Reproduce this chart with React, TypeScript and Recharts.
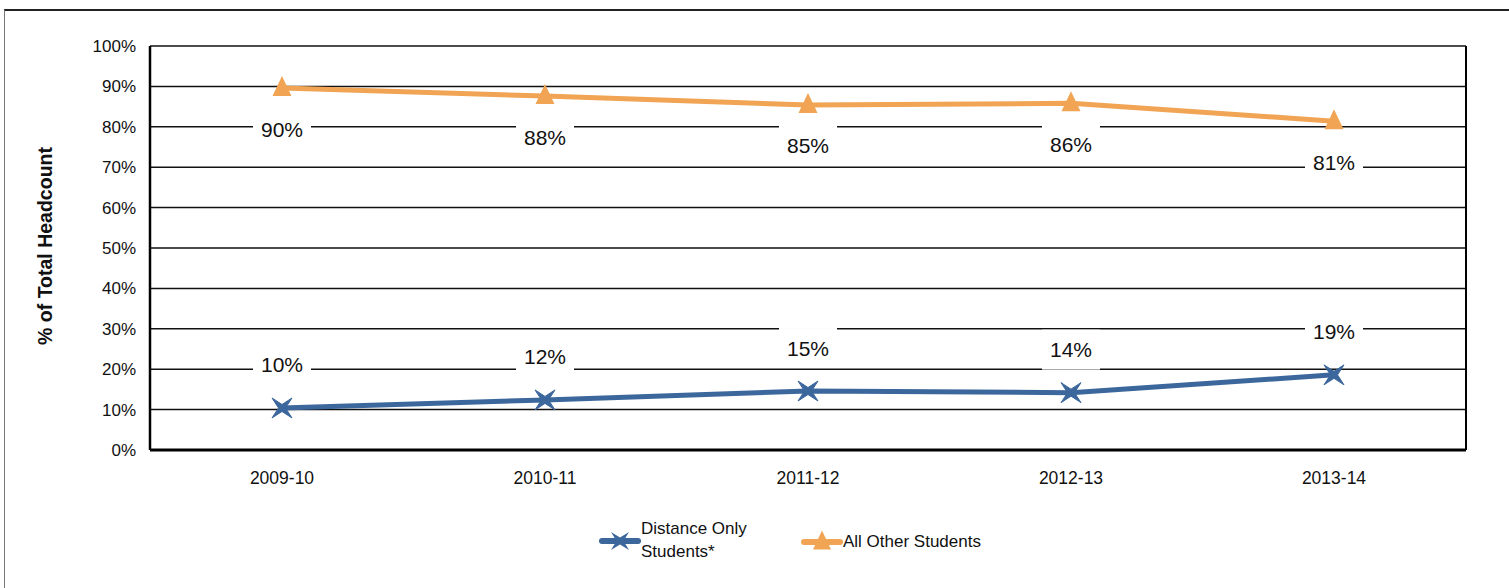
import { CartesianGrid, LabelList, Line, LineChart, XAxis, YAxis } from "recharts"

const years = ["2009-10", "2010-11", "2011-12", "2012-13", "2013-14"]
const distanceOnly = [10.4, 12.4, 14.6, 14.2, 18.6]
const allOther = [89.6, 87.6, 85.4, 85.8, 81.4]
const yTicks = [0, 10, 20, 30, 40, 50, 60, 70, 80, 90, 100]

const data = years.map((year, i) => ({
    year,
    distance: distanceOnly[i],
    other: allOther[i],
}))

const FONT = "'Liberation Sans', Arial, sans-serif"
const BLUE = "#3C679C"
const ORANGE = "#F0A454"

function starPath(cx: number, cy: number, r = 10, inner = 3.5) {
    return `M${cx - r},${cy - r} L${cx},${cy - inner} L${cx + r},${cy - r} L${cx + inner},${cy} L${cx + r},${cy + r} L${cx},${cy + inner} L${cx - r},${cy + r} L${cx - inner},${cy} Z`
}

function trianglePath(cx: number, cy: number, w = 19, h = 20) {
    return `M${cx},${cy - h * 0.6} L${cx + w / 2},${cy + h * 0.4} L${cx - w / 2},${cy + h * 0.4} Z`
}

const StarDot = (props: any) => {
    const { cx, cy, index } = props
    if (cx == null || cy == null) return <g key={`s-${index}`} />
    return <path key={`s-${index}`} d={starPath(cx, cy)} fill={BLUE} stroke={BLUE} strokeWidth={1} />
}

const TriangleDot = (props: any) => {
    const { cx, cy, index } = props
    if (cx == null || cy == null) return <g key={`t-${index}`} />
    return <path key={`t-${index}`} d={trianglePath(cx, cy)} fill={ORANGE} />
}

const boxLabel = (offset: number) => (props: any) => {
    const { x, y, value } = props
    const cy = y + offset
    return (
        <g>
            <rect x={x - 29} y={cy - 20} width={58} height={40} fill="#fff" />
            <text x={x} y={cy} textAnchor="middle" dominantBaseline="central" fontSize={21} fontFamily={FONT} fill="#111">
                {`${Math.round(value)}%`}
            </text>
        </g>
    )
}

function LegendIcon({ kind }: { kind: "star" | "tri" }) {
    const color = kind === "star" ? BLUE : ORANGE
    return (
        <svg width={42} height={24} style={{ display: "block" }}>
            <line x1={3} y1={13} x2={39} y2={13} stroke={color} strokeWidth={6} strokeLinecap="round" />
            {kind === "star" ? (
                <path d={starPath(21, 13, 9, 3.5)} fill={color} />
            ) : (
                <path d={trianglePath(21, 13, 18, 19)} fill={color} />
            )}
        </svg>
    )
}

export default function App() {
    return (
        <div style={{ position: "absolute", left: 0, top: 0, width: 1509, height: 588, background: "#fff", fontFamily: FONT }}>
            <div
                style={{
                    position: "absolute",
                    left: 4,
                    top: 9,
                    width: 1505,
                    height: 579,
                    borderTop: "2px solid #222",
                    borderLeft: "1px solid #777",
                }}
            />
            <div style={{ position: "absolute", left: 0, top: 0 }}>
                <LineChart width={1509} height={588} data={data} margin={{ top: 46, right: 42, bottom: 98, left: 0 }}>
                    <CartesianGrid yAxisId="left" vertical={false} stroke="#111" strokeWidth={1.5} />
                    <XAxis
                        dataKey="year"
                        padding={{ left: 132, right: 132 }}
                        axisLine={{ stroke: "#000", strokeWidth: 3 }}
                        tickLine={false}
                        tickSize={0}
                        tickMargin={22}
                        height={40}
                        tick={{ fill: "#111", fontSize: 17.5, fontFamily: FONT }}
                    />
                    <YAxis
                        yAxisId="left"
                        domain={[0, 100]}
                        ticks={yTicks}
                        interval={0}
                        width={150}
                        axisLine={{ stroke: "#000", strokeWidth: 2.5 }}
                        tickLine={false}
                        tickSize={0}
                        tickMargin={14}
                        tickFormatter={(v) => `${v}%`}
                        tick={{ fill: "#111", fontSize: 17, fontFamily: FONT }}
                        label={{
                            content: () => (
                                <text
                                    x={45}
                                    y={246}
                                    transform="rotate(-90 45 246)"
                                    textAnchor="middle"
                                    dominantBaseline="central"
                                    fontSize={19.5}
                                    fontWeight="bold"
                                    fontFamily={FONT}
                                    fill="#111"
                                >
                                    % of Total Headcount
                                </text>
                            ),
                        }}
                    />
                    <YAxis
                        yAxisId="right"
                        orientation="right"
                        domain={[0, 100]}
                        width={1}
                        tick={false}
                        tickLine={false}
                        axisLine={{ stroke: "#000", strokeWidth: 2 }}
                    />
                    <Line
                        yAxisId="left"
                        dataKey="other"
                        stroke={ORANGE}
                        strokeWidth={5}
                        dot={TriangleDot}
                        activeDot={false}
                        isAnimationActive={false}
                    >
                        <LabelList dataKey="other" content={boxLabel(41)} />
                    </Line>
                    <Line
                        yAxisId="left"
                        dataKey="distance"
                        stroke={BLUE}
                        strokeWidth={5}
                        dot={StarDot}
                        activeDot={false}
                        isAnimationActive={false}
                    >
                        <LabelList dataKey="distance" content={boxLabel(-43)} />
                    </Line>
                </LineChart>
            </div>
            <div style={{ position: "absolute", left: 599, top: 517, display: "flex", alignItems: "center", fontSize: 17, color: "#111" }}>
                <LegendIcon kind="star" />
                <div style={{ lineHeight: "23px" }}>
                    Distance Only
                    <br />
                    Students*
                </div>
            </div>
            <div style={{ position: "absolute", left: 801, top: 529, display: "flex", alignItems: "center", fontSize: 17, color: "#111" }}>
                <LegendIcon kind="tri" />
                <div style={{ lineHeight: "23px" }}>All Other Students</div>
            </div>
        </div>
    )
}
